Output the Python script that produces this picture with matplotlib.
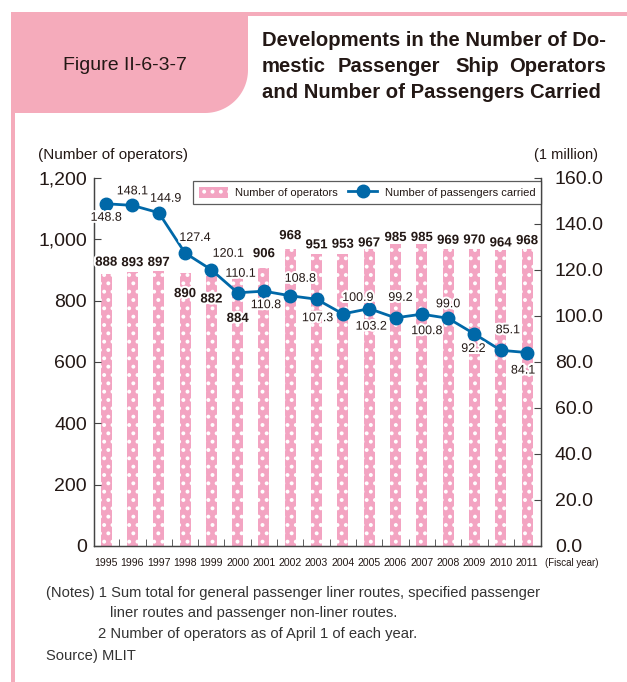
import numpy as np
import matplotlib.pyplot as plt
from matplotlib.patches import Rectangle, Polygon, Patch
from matplotlib.lines import Line2D
import matplotlib.patheffects as pe

# data
years = [str(y) for y in range(1995, 2012)]
operators = [888, 893, 897, 890, 882, 884, 906, 968, 951, 953, 967, 985, 985, 969, 970, 964, 968]
passengers = [148.8, 148.1, 144.9, 127.4, 120.1, 110.1, 110.8, 108.8, 107.3, 100.9,
              103.2, 99.2, 100.8, 99.0, 92.2, 85.1, 84.1]
left_ticks = [0, 200, 400, 600, 800, 1000, 1200]
right_ticks = [0, 20, 40, 60, 80, 100, 120, 140, 160]

# label offsets in pixels (dx, dy)
bar_label_off = [(0, 11), (0, 9), (0, 8), (0, -21), (0, -24), (0, -44), (0, 14), (0, 13),
                 (0, 9), (0, 9), (0, 6), (0, 6), (0, 6), (0, 8), (0, 8), (0, 7), (0, 8)]
line_label_off = [(0, -14), (0, 14), (7, 14), (10, 15), (17, 16), (3, 19), (2, -14),
                  (10, 17), (1, -19), (15, 16), (2, -18), (5, 20), (5, -17), (0, 14),
                  (-1, -15), (7, 20), (-4, -18)]

W, H = 627, 682
pink_frame = '#F5ABBB'
bar_pink = '#F3A4C2'
blue = '#0068A8'
txt = '#231815'
plt.rcParams['font.family'] = ['Liberation Sans', 'DejaVu Sans']
plt.rcParams['hatch.linewidth'] = 1.6


def fx(x):
    return x / W


def fy(y):
    return 1 - y / H


fig = plt.figure(figsize=(W / 100, H / 100), dpi=100)

# header frame
fig.patches.append(Rectangle((fx(11), fy(15.5)), fx(627) - fx(11), 3.5 / H,
                             transform=fig.transFigure, color=pink_frame, lw=0))
fig.patches.append(Rectangle((fx(11), 0), 4 / W, fy(113),
                             transform=fig.transFigure, color=pink_frame, lw=0))
r = 43
cx, cy = 248 - r, 113 - r
ang = np.linspace(0, np.pi / 2, 30)
pts = [(11, 12), (248, 12)] + [(cx + r * np.cos(a), cy + r * np.sin(a)) for a in ang] + [(11, 113)]
fig.patches.append(Polygon([(fx(a), fy(b)) for a, b in pts], closed=True,
                           transform=fig.transFigure, color=pink_frame, lw=0))

fig.text(fx(125), fy(66), 'Figure II-6-3-7', fontsize=14, color=txt,
         ha='center', va='center')
tsize = 14.6
fig.text(fx(262), fy(40), 'Developments in the Number of Do-', fontsize=tsize,
         fontweight='bold', color=txt, ha='left', va='center')
for word, xx, ha in [('mestic', 262, 'left'), ('Passenger', 338, 'left'),
                     ('Ship', 455, 'left'), ('Operators', 606, 'right')]:
    fig.text(fx(xx), fy(67), word, fontsize=tsize, fontweight='bold', color=txt,
             ha=ha, va='center')
fig.text(fx(262), fy(93), 'and Number of Passengers Carried', fontsize=tsize,
         fontweight='bold', color=txt, ha='left', va='center')

# chart
ax = fig.add_axes([fx(94), fy(546), (541 - 94) / W, (546 - 178) / H])
x = np.arange(len(years))
ax.bar(x, operators, width=0.42, color=bar_pink, edgecolor='white', linewidth=0, hatch='..')
ax.set_xlim(-0.46, len(years) - 0.47)
ax.set_ylim(0, 1200)
ax.set_yticks(left_ticks)
ax.set_yticklabels([f'{v:,}' for v in left_ticks])
ax.set_xticks(x)
ax.set_xticklabels(years, fontsize=7.6)
ax.set_xticks(x[:-1] + 0.5, minor=True)
ax.tick_params(axis='x', which='major', length=0, pad=9, colors=txt)
ax.tick_params(axis='x', which='minor', direction='in', length=5, color='#444444')
ax.tick_params(axis='y', direction='in', length=5, labelsize=14, pad=5,
               color='#444444', labelcolor=txt)

ax2 = ax.twinx()
ax2.set_ylim(0, 160)
ax2.set_yticks(right_ticks)
ax2.set_yticklabels([f'{v:.1f}' for v in right_ticks])
ax2.tick_params(axis='y', direction='in', length=5, labelsize=14, pad=10,
                color='#444444', labelcolor=txt)
ax2.plot(x, passengers, color=blue, lw=2, marker='o', ms=9, zorder=3)

for a in (ax, ax2):
    a.spines['top'].set_visible(False)
    for s in ('left', 'right', 'bottom'):
        a.spines[s].set_color('#444444')
        a.spines[s].set_linewidth(0.9)

stroke = [pe.withStroke(linewidth=3, foreground='white')]
for i, v in enumerate(operators):
    ax2.annotate(f'{v}', xy=(i, v), xycoords=ax.transData, xytext=bar_label_off[i],
                 textcoords='offset pixels', ha='center', va='center', fontsize=9.5,
                 fontweight='bold', color=txt, path_effects=stroke, zorder=5)
for i, v in enumerate(passengers):
    ax2.annotate(f'{v:.1f}', xy=(i, v), xytext=line_label_off[i],
                 textcoords='offset pixels', ha='center', va='center', fontsize=9,
                 color=txt, path_effects=stroke, zorder=5)

handles = [Patch(facecolor=bar_pink, edgecolor='white', linewidth=0, hatch='..'),
           Line2D([], [], color=blue, lw=2, marker='o', ms=9)]
leg = ax2.legend(handles, ['Number of operators', 'Number of passengers carried'],
                 loc='upper right', bbox_to_anchor=(fx(541), fy(181)),
                 bbox_transform=fig.transFigure, ncol=2, frameon=True, fancybox=False,
                 borderaxespad=0, handlelength=2.6, handleheight=1.2, columnspacing=0.9,
                 handletextpad=0.7, borderpad=0.5, prop={'size': 8})
leg.get_frame().set_edgecolor('#333333')
leg.get_frame().set_linewidth(0.9)
for t in leg.get_texts():
    t.set_color(txt)

fig.text(fx(38), fy(155), '(Number of operators)', fontsize=11, color=txt, va='center')
fig.text(fx(598), fy(155), '(1 million)', fontsize=10.5, color=txt, va='center', ha='right')
fig.text(fx(545), fy(563), '(Fiscal year)', fontsize=7, color=txt, va='center')

notes = [(46, 593, '(Notes) 1 Sum total for general passenger liner routes, specified passenger'),
         (110, 613, 'liner routes and passenger non-liner routes.'),
         (98, 634, '2 Number of operators as of April 1 of each year.'),
         (46, 656, 'Source) MLIT')]
for xx, yy, s in notes:
    fig.text(fx(xx), fy(yy), s, fontsize=10.6, color='#333333', va='center')

fig.savefig('out.png', dpi=100)
